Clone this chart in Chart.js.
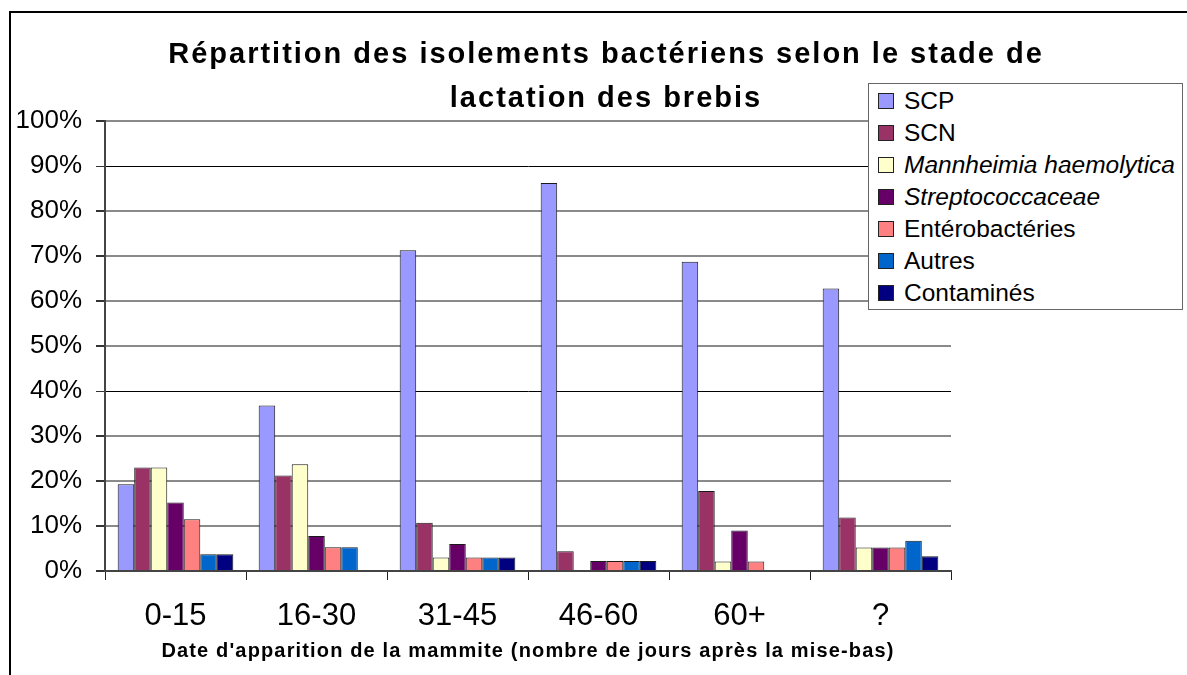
<!DOCTYPE html>
<html lang="fr">
<head>
<meta charset="utf-8">
<script src="https://cdn.jsdelivr.net/npm/chart.js@4/dist/chart.umd.min.js"></script>
<style>
  html, body { margin: 0; padding: 0; background: #fff; }
  body { width: 1187px; height: 675px; position: relative; overflow: hidden;
         font-family: "Liberation Sans", Arial, sans-serif; }
  #frame { position: absolute; left: 9px; top: 11px; width: 1300px; height: 800px;
           border-left: 2px solid #000; border-top: 2px solid #000; }
  #wrap { position: absolute; left: 0; top: 0; width: 1187px; height: 675px; }
  #title { position: absolute; left: 25px; width: 1162px; top: 31px; text-align: center;
           font-weight: bold; font-size: 29px; line-height: 44px; letter-spacing: 2px; color: #000; }
  #xtitle { position: absolute; left: 105px; width: 846px; top: 640px; text-align: center;
            font-weight: bold; font-size: 20px; line-height: 20px; letter-spacing: 1.15px;
            color: #000; white-space: nowrap; }
  #legend { position: absolute; left: 868px; top: 83px; width: 315px; height: 227px;
            border: 1px solid #666; background: #fff; box-sizing: border-box; }
  #legend .row { position: absolute; left: 9px; height: 32px; display: flex; align-items: center;
                 font-size: 24.5px; color: #000; white-space: nowrap; }
  #legend .sw { width: 14px; height: 14px; border: 1px solid #222; margin-right: 10px; flex: none; }
</style>
</head>
<body>
<div id="frame"></div>
<div id="wrap"><canvas id="c" width="1187" height="675"></canvas></div>
<div id="title">Répartition des isolements bactériens selon le stade de<br>lactation des brebis</div>
<div id="xtitle"></div>
<div id="legend"></div>
<script>
"use strict";

// ---------- data (percent of isolates per lactation stage) ----------
const CATEGORIES = ["0-15", "16-30", "31-45", "46-60", "60+", "?"];
const SERIES_NAMES = ["SCP", "SCN", "Mannheimia haemolytica", "Streptococcaceae",
                      "Entérobactéries", "Autres", "Contaminés"];
const ITALIC = [false, false, true, true, false, false, false];
const SCP   = [19.3, 36.8, 71.3, 86.2, 68.7, 62.8];
const SCN   = [23.0, 21.2, 10.7,  4.4, 17.8, 11.9];
const MANN  = [23.0, 23.7,  3.0,  0.0,  2.1,  5.2];
const STREP = [15.2,  7.8,  6.0,  2.2,  9.0,  5.2];
const ENTERO= [11.5,  5.3,  3.0,  2.2,  2.1,  5.2];
const AUTRES= [ 3.7,  5.3,  3.0,  2.2,  0.0,  6.7];
const CONTAM= [ 3.7,  0.0,  3.0,  2.2,  0.0,  3.3];
const Y_TICKS = [0, 10, 20, 30, 40, 50, 60, 70, 80, 90, 100];
const X_TITLE = "Date d'apparition de la mammite (nombre de jours après la mise-bas)";

const COLORS = ["#9999ff", "#993366", "#ffffcc", "#660066", "#ff8080", "#0066cc", "#000080"];
const VALUES = [SCP, SCN, MANN, STREP, ENTERO, AUTRES, CONTAM];

// ---------- legend + axis title (html, legend overlaps plot like the original) ----------
function buildLegend() {
  const el = document.getElementById("legend");
  el.innerHTML = SERIES_NAMES.map((n, i) =>
    `<div class="row" style="top:${1 + i * 32}px">
       <span class="sw" style="background:${COLORS[i]}"></span>
       <span style="font-style:${ITALIC[i] ? "italic" : "normal"}">${n}</span>
     </div>`).join("");
  document.getElementById("xtitle").textContent = X_TITLE;
}

// ---------- chart ----------
const datasets = SERIES_NAMES.map((n, i) => ({
  label: n, data: VALUES[i], backgroundColor: COLORS[i],
  borderColor: "#1a1a1a", borderWidth: 1,
  categoryPercentage: 0.82, barPercentage: 1.0,
}));

const isDark = (ctx) => ctx.tick && (ctx.tick.value === 40 || ctx.tick.value === 90);

new Chart(document.getElementById("c"), {
  type: "bar",
  data: { labels: CATEGORIES, datasets },
  options: {
    responsive: false, animation: false,
    layout: { padding: { left: 0, top: 121, right: 236, bottom: 0 } },
    plugins: { legend: { display: false }, tooltip: { enabled: false } },
    scales: {
      x: {
        grid: {
          offset: true, drawOnChartArea: true, tickLength: 9,
          color: (ctx) => ctx.index === CATEGORIES.length ? "#9a9a9a" : "rgba(0,0,0,0)",
          tickColor: "#222", lineWidth: 1,
        },
        border: { color: "#444", width: 2 },
        ticks: { color: "#000", padding: 18, font: { family: "Liberation Sans", size: 31 } },
        afterFit: (s) => { s.height = 104; },
      },
      y: {
        min: 0, max: 100,
        afterBuildTicks: (s) => { s.ticks = Y_TICKS.map(v => ({ value: v })); },
        grid: {
          tickLength: 9, tickColor: "#333",
          color: (ctx) => isDark(ctx) ? "#000" : "#8a8a8a",
          lineWidth: (ctx) => isDark(ctx) ? 1 : 2,
        },
        border: { color: "#444", width: 2 },
        ticks: { color: "#000", padding: 14, font: { family: "Liberation Sans", size: 26 },
                 callback: (v) => v + "%" },
        afterFit: (s) => { s.width = 105; },
      },
    },
  },
});

buildLegend();
</script>
</body>
</html>
